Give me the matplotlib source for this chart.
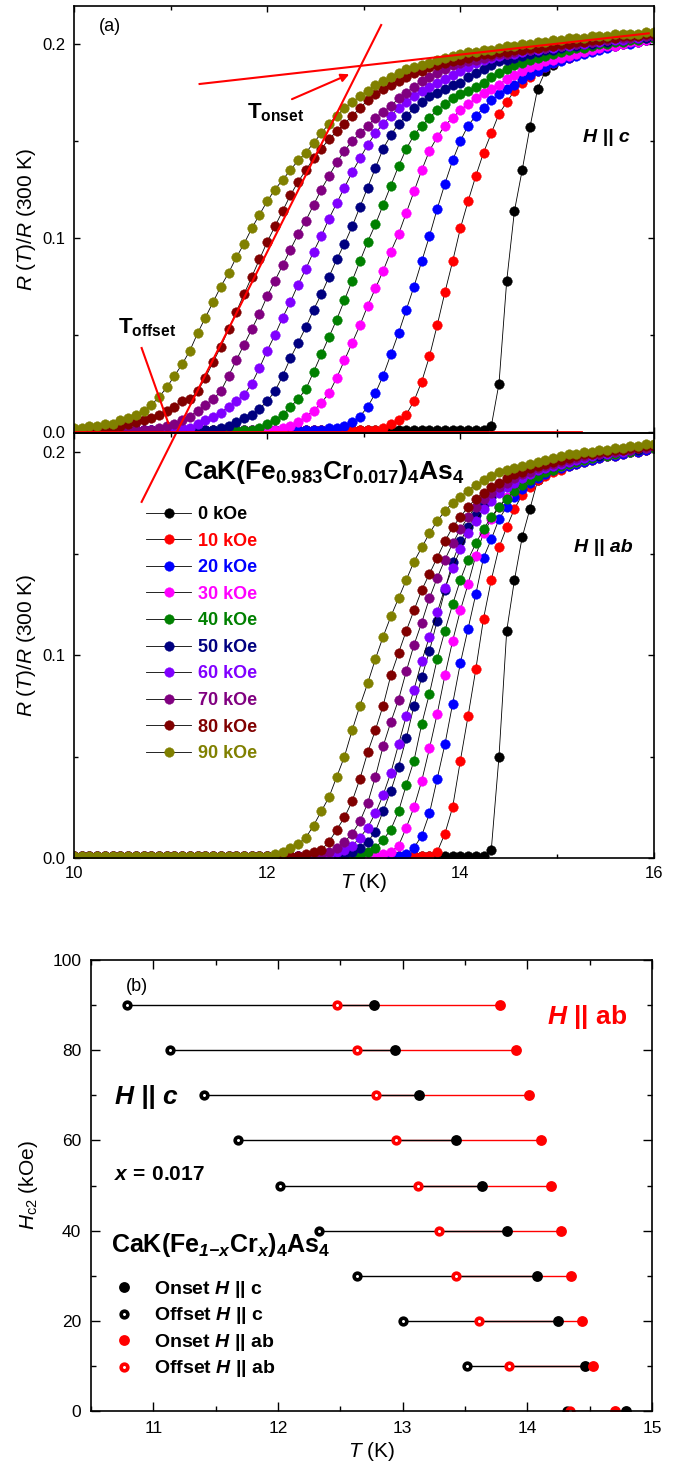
import matplotlib
matplotlib.use("Agg")
import matplotlib.pyplot as plt
from matplotlib import font_manager
from matplotlib.ticker import MultipleLocator, FormatStrFormatter

# temperature grid of the R(T) sweeps, K
temps = [10.00, 10.08, 10.16, 10.24, 10.32, 10.40, 10.48, 10.56, 10.64, 10.72,
         10.80, 10.88, 10.96, 11.04, 11.12, 11.20, 11.28, 11.36, 11.44, 11.52,
         11.60, 11.68, 11.76, 11.84, 11.92, 12.00, 12.08, 12.16, 12.24, 12.32,
         12.40, 12.48, 12.56, 12.64, 12.72, 12.80, 12.88, 12.96, 13.04, 13.12,
         13.20, 13.28, 13.36, 13.44, 13.52, 13.60, 13.68, 13.76, 13.84, 13.92,
         14.00, 14.08, 14.16, 14.24, 14.32, 14.40, 14.48, 14.56, 14.64, 14.72,
         14.80, 14.88, 14.96, 15.04, 15.12, 15.20, 15.28, 15.36, 15.44, 15.52,
         15.60, 15.68, 15.76, 15.84, 15.92, 16.00]

fields = [0, 10, 20, 30, 40, 50, 60, 70, 80, 90]
colors = ['#000000', '#ff0000', '#0000ff', '#ff00ff', '#008000',
          '#000080', '#8000ff', '#800080', '#800000', '#808000']

# R(T)/R(300 K), H || c
rc_0 = [0.001] * 54 + [0.003, 0.025, 0.078, 0.114, 0.135, 0.157,
        0.177, 0.186, 0.189, 0.192, 0.194, 0.196, 0.197, 0.198, 0.199, 0.200,
        0.200, 0.201, 0.201, 0.202, 0.202, 0.203]
rc_10 = [0.001] * 40 + [0.002, 0.004, 0.006, 0.009, 0.016, 0.026, 0.039, 0.055, 0.072, 0.088,
         0.105, 0.119, 0.132, 0.144, 0.154, 0.164, 0.170, 0.176, 0.180, 0.183,
         0.186, 0.188, 0.190, 0.192, 0.193, 0.195, 0.196, 0.197, 0.198, 0.199,
         0.199, 0.200, 0.201, 0.201, 0.202, 0.203]
rc_20 = [0.001] * 33 + [0.002, 0.002, 0.003, 0.005, 0.008, 0.013, 0.020,
         0.029, 0.040, 0.051, 0.063, 0.075, 0.088, 0.101, 0.115, 0.128, 0.140,
         0.150, 0.158, 0.163, 0.167, 0.171, 0.174, 0.177, 0.179, 0.182, 0.184,
         0.186, 0.188, 0.190, 0.191, 0.193, 0.194, 0.195, 0.196, 0.197, 0.198,
         0.199, 0.200, 0.200, 0.201, 0.202, 0.203]
rc_30 = [0.001] * 27 + [0.002, 0.003, 0.005,
         0.008, 0.011, 0.015, 0.020, 0.028, 0.037, 0.046, 0.055, 0.065, 0.074,
         0.083, 0.093, 0.102, 0.113, 0.124, 0.135, 0.145, 0.152, 0.158, 0.162,
         0.166, 0.169, 0.172, 0.175, 0.177, 0.179, 0.182, 0.184, 0.186, 0.188,
         0.189, 0.191, 0.192, 0.193, 0.194, 0.195, 0.196, 0.197, 0.198, 0.199,
         0.199, 0.200, 0.201, 0.201, 0.202, 0.203]
rc_40 = [0.001] * 24 + [0.002, 0.004, 0.006, 0.009, 0.013, 0.017,
         0.022, 0.031, 0.040, 0.049, 0.058, 0.068, 0.078, 0.088, 0.098, 0.107,
         0.117, 0.127, 0.137, 0.146, 0.153, 0.158, 0.162, 0.166, 0.169, 0.172,
         0.174, 0.176, 0.178, 0.180, 0.183, 0.185, 0.187, 0.189, 0.190, 0.192,
         0.193, 0.194, 0.195, 0.196, 0.197, 0.198, 0.198, 0.199, 0.200, 0.200,
         0.201, 0.201, 0.202, 0.202, 0.203, 0.203]
rc_50 = [0.001] * 19 + [0.002,
         0.003, 0.005, 0.007, 0.009, 0.012, 0.016, 0.021, 0.029, 0.038, 0.046,
         0.054, 0.063, 0.071, 0.080, 0.089, 0.097, 0.106, 0.116, 0.126, 0.136,
         0.146, 0.153, 0.159, 0.163, 0.167, 0.170, 0.173, 0.175, 0.177, 0.179,
         0.180, 0.183, 0.185, 0.187, 0.189, 0.191, 0.192, 0.193, 0.194, 0.195,
         0.196, 0.197, 0.197, 0.198, 0.199, 0.199, 0.200, 0.200, 0.201, 0.201,
         0.202, 0.202, 0.203, 0.203, 0.203, 0.204]
rc_60 = [0.001] * 14 + [0.002, 0.002, 0.004, 0.006, 0.008, 0.010,
         0.013, 0.016, 0.019, 0.025, 0.033, 0.042, 0.050, 0.059, 0.067, 0.076,
         0.084, 0.093, 0.101, 0.110, 0.118, 0.126, 0.134, 0.141, 0.148, 0.154,
         0.159, 0.163, 0.167, 0.170, 0.173, 0.176, 0.178, 0.180, 0.182, 0.184,
         0.186, 0.188, 0.190, 0.192, 0.193, 0.194, 0.195, 0.195, 0.196, 0.197,
         0.197, 0.198, 0.198, 0.199, 0.199, 0.200, 0.200, 0.201, 0.201, 0.202,
         0.202, 0.202, 0.203, 0.203, 0.204, 0.204]
rc_70 = [0.001] * 11 + [0.002, 0.003, 0.004, 0.006, 0.008, 0.011, 0.014, 0.017, 0.021,
         0.029, 0.037, 0.045, 0.053, 0.061, 0.070, 0.078, 0.086, 0.094, 0.102,
         0.109, 0.117, 0.125, 0.132, 0.139, 0.145, 0.150, 0.154, 0.158, 0.162,
         0.165, 0.168, 0.172, 0.175, 0.178, 0.181, 0.183, 0.185, 0.187, 0.189,
         0.190, 0.191, 0.192, 0.193, 0.194, 0.195, 0.195, 0.196, 0.197, 0.197,
         0.198, 0.198, 0.199, 0.199, 0.200, 0.200, 0.201, 0.201, 0.202, 0.202,
         0.203, 0.203, 0.203, 0.204, 0.204, 0.204]
rc_80 = [0.001, 0.001, 0.001, 0.001, 0.002, 0.002, 0.003, 0.004, 0.005, 0.006,
         0.007, 0.009, 0.011, 0.013, 0.016, 0.017, 0.021, 0.028, 0.036, 0.044,
         0.053, 0.062, 0.071, 0.080, 0.089, 0.098, 0.106, 0.114, 0.122, 0.129,
         0.135, 0.141, 0.146, 0.151, 0.155, 0.159, 0.163, 0.167, 0.171, 0.174,
         0.177, 0.179, 0.181, 0.183, 0.185, 0.186, 0.188, 0.189, 0.190, 0.191,
         0.192, 0.193, 0.194, 0.195, 0.195, 0.196, 0.196, 0.197, 0.197, 0.198,
         0.198, 0.199, 0.199, 0.200, 0.200, 0.201, 0.201, 0.202, 0.202, 0.203,
         0.203, 0.204, 0.204, 0.204, 0.205, 0.205]
rc_90 = [0.002, 0.002, 0.003, 0.003, 0.004, 0.004, 0.006, 0.007, 0.009, 0.011,
         0.014, 0.018, 0.023, 0.029, 0.035, 0.042, 0.051, 0.059, 0.067, 0.075,
         0.082, 0.090, 0.097, 0.105, 0.112, 0.119, 0.125, 0.130, 0.135, 0.140,
         0.144, 0.149, 0.154, 0.159, 0.163, 0.167, 0.170, 0.173, 0.176, 0.179,
         0.181, 0.183, 0.185, 0.187, 0.188, 0.189, 0.190, 0.192, 0.193, 0.194,
         0.195, 0.196, 0.196, 0.197, 0.197, 0.198, 0.199, 0.199, 0.200, 0.200,
         0.201, 0.201, 0.202, 0.202, 0.203, 0.203, 0.203, 0.204, 0.204, 0.204,
         0.205, 0.205, 0.205, 0.205, 0.206, 0.206]

# R(T)/R(300 K), H || ab
rab_0 = [0.001] * 54 + [0.004, 0.050, 0.112, 0.137, 0.158, 0.172,
         0.186, 0.190, 0.192, 0.194, 0.195, 0.196, 0.197, 0.198, 0.198, 0.199,
         0.199, 0.200, 0.200, 0.201, 0.201, 0.202]
rab_10 = [0.001] * 47 + [0.003, 0.012, 0.025,
          0.048, 0.070, 0.093, 0.118, 0.137, 0.153, 0.163, 0.172, 0.179, 0.183,
          0.186, 0.188, 0.190, 0.191, 0.193, 0.194, 0.195, 0.196, 0.197, 0.198,
          0.198, 0.199, 0.200, 0.200, 0.201, 0.202]
rab_20 = [0.001] * 43 + [0.002, 0.005, 0.011, 0.022, 0.039, 0.056, 0.076,
          0.096, 0.113, 0.130, 0.148, 0.157, 0.167, 0.173, 0.178, 0.182, 0.185,
          0.187, 0.189, 0.191, 0.192, 0.193, 0.194, 0.195, 0.196, 0.197, 0.198,
          0.198, 0.199, 0.200, 0.200, 0.201, 0.202]
rab_30 = [0.001] * 40 + [0.002, 0.003, 0.006, 0.015, 0.025, 0.038, 0.054, 0.071, 0.090, 0.107,
          0.122, 0.135, 0.149, 0.160, 0.167, 0.173, 0.178, 0.182, 0.185, 0.187,
          0.189, 0.191, 0.192, 0.193, 0.194, 0.195, 0.196, 0.197, 0.198, 0.198,
          0.199, 0.200, 0.200, 0.201, 0.202, 0.202]
rab_40 = [0.001] * 38 + [0.003, 0.005,
          0.009, 0.014, 0.023, 0.036, 0.048, 0.066, 0.081, 0.098, 0.112, 0.125,
          0.137, 0.147, 0.155, 0.162, 0.168, 0.173, 0.177, 0.181, 0.184, 0.186,
          0.188, 0.190, 0.191, 0.193, 0.194, 0.195, 0.196, 0.197, 0.198, 0.198,
          0.199, 0.200, 0.200, 0.201, 0.202, 0.202]
rab_50 = [0.001] * 36 + [0.003, 0.005, 0.008, 0.013,
          0.023, 0.033, 0.045, 0.059, 0.075, 0.089, 0.102, 0.117, 0.132, 0.146,
          0.156, 0.163, 0.169, 0.174, 0.178, 0.181, 0.184, 0.186, 0.188, 0.190,
          0.191, 0.192, 0.193, 0.194, 0.195, 0.196, 0.197, 0.198, 0.198, 0.199,
          0.200, 0.200, 0.201, 0.201, 0.202, 0.203]
rab_60 = [0.001] * 34 + [0.003, 0.004, 0.006, 0.010, 0.015, 0.022,
          0.031, 0.042, 0.056, 0.070, 0.083, 0.097, 0.109, 0.121, 0.133, 0.143,
          0.152, 0.160, 0.166, 0.172, 0.176, 0.180, 0.183, 0.185, 0.187, 0.189,
          0.191, 0.192, 0.193, 0.194, 0.195, 0.196, 0.197, 0.198, 0.199, 0.199,
          0.200, 0.200, 0.201, 0.202, 0.202, 0.203]
rab_70 = [0.001] * 32 + [0.002, 0.003, 0.005, 0.008, 0.012, 0.018, 0.027, 0.040,
          0.055, 0.067, 0.078, 0.092, 0.105, 0.116, 0.128, 0.138, 0.147, 0.155,
          0.162, 0.168, 0.173, 0.177, 0.180, 0.183, 0.185, 0.187, 0.189, 0.190,
          0.192, 0.193, 0.194, 0.195, 0.196, 0.197, 0.198, 0.199, 0.199, 0.200,
          0.200, 0.201, 0.201, 0.202, 0.202, 0.203]
rab_80 = [0.001] * 30 + [0.002, 0.003, 0.004, 0.008, 0.014, 0.020, 0.028, 0.039, 0.052, 0.063,
          0.075, 0.090, 0.101, 0.112, 0.122, 0.132, 0.140, 0.148, 0.156, 0.163,
          0.168, 0.173, 0.177, 0.180, 0.183, 0.185, 0.187, 0.189, 0.190, 0.192,
          0.193, 0.194, 0.195, 0.196, 0.197, 0.198, 0.199, 0.199, 0.200, 0.200,
          0.201, 0.201, 0.202, 0.202, 0.203, 0.203]
rab_90 = [0.001] * 26 + [0.002, 0.003, 0.005, 0.007,
          0.010, 0.016, 0.023, 0.030, 0.040, 0.050, 0.063, 0.075, 0.086, 0.098,
          0.109, 0.119, 0.128, 0.137, 0.146, 0.153, 0.160, 0.166, 0.171, 0.175,
          0.178, 0.181, 0.184, 0.186, 0.188, 0.190, 0.191, 0.192, 0.193, 0.194,
          0.195, 0.196, 0.197, 0.198, 0.199, 0.199, 0.200, 0.200, 0.201, 0.201,
          0.202, 0.202, 0.203, 0.203, 0.204, 0.204]

curves_c = [rc_0, rc_10, rc_20, rc_30, rc_40, rc_50, rc_60, rc_70, rc_80, rc_90]
curves_ab = [rab_0, rab_10, rab_20, rab_30, rab_40, rab_50, rab_60, rab_70, rab_80, rab_90]

# construction lines for the 80 kOe, H || c curve
normal_fit_T = [11.30, 15.95]
normal_fit_R = [0.1794, 0.2055]
steep_fit_T = [10.70, 13.18]
steep_fit_R = [-0.036, 0.2098]
zero_fit_T = [10.0, 15.25]
zero_fit_R = [0.0, 0.0]

# Hc2 from onset / offset, K
onset_c = [14.79, 14.46, 14.25, 14.08, 13.84, 13.64, 13.43, 13.13, 12.94, 12.77]
offset_c = [14.32, 13.52, 13.00, 12.63, 12.33, 12.02, 11.68, 11.41, 11.13, 10.79]
onset_ab = [14.70, 14.53, 14.44, 14.35, 14.27, 14.19, 14.11, 14.01, 13.91, 13.78]
offset_ab = [14.34, 13.85, 13.61, 13.43, 13.29, 13.12, 12.95, 12.79, 12.63, 12.47]

# fonts
names = {f.name for f in font_manager.fontManager.ttflist}
narrow = 'Liberation Sans Narrow' if 'Liberation Sans Narrow' in names else 'Liberation Sans'
plt.rcParams['font.family'] = ['Liberation Sans', 'DejaVu Sans']
plt.rcParams['mathtext.fontset'] = 'custom'
plt.rcParams['mathtext.rm'] = 'Liberation Sans'
plt.rcParams['mathtext.it'] = 'Liberation Sans:italic'
plt.rcParams['mathtext.bf'] = narrow + ':bold'
plt.rcParams['mathtext.bfit'] = narrow + ':italic:bold'
plt.rcParams['axes.linewidth'] = 1.2

fig = plt.figure(figsize=(6.88, 14.78), dpi=100)
ax1 = fig.add_axes([0.1076, 0.70704, 0.8423, 0.2889])
ax2 = fig.add_axes([0.1076, 0.41949, 0.8423, 0.28755])
ax3 = fig.add_axes([0.13227, 0.04533, 0.8154, 0.30514])
ax2.patch.set_visible(False)


def style_ax(ax, fs, major, minor):
    ax.tick_params(which='both', direction='in', top=True, right=True, width=1.0)
    ax.tick_params(which='major', length=major, labelsize=fs, pad=6)
    ax.tick_params(which='minor', length=minor)


# (a) R(T) curves
handles = []
for ax, curves in [(ax1, curves_c), (ax2, curves_ab)]:
    for h, col, r in zip(fields, colors, curves):
        ln, = ax.plot(temps, r, '-o', color='k', lw=0.6, ms=6.9,
                      mfc=col, mec=col, mew=0.3, label=f'{h} kOe')
        if ax is ax2:
            handles.append(ln)
    ax.set_xlim(10, 16)
    ax.xaxis.set_major_locator(MultipleLocator(2))
    ax.xaxis.set_minor_locator(MultipleLocator(1))
    ax.yaxis.set_major_locator(MultipleLocator(0.1))
    ax.yaxis.set_minor_locator(MultipleLocator(0.05))
    ax.yaxis.set_major_formatter(FormatStrFormatter('%.1f'))
    style_ax(ax, 12, 4.5, 3)
    ax.set_ylabel(r'$R$ ($T$)/$R$ (300 K)', fontsize=15)
    ax.yaxis.set_label_coords(-0.062, 0.5)

ax1.set_ylim(-0.0005, 0.2196)
ax2.set_ylim(0, 0.2094)
ax1.tick_params(labelbottom=False)
ax2.set_xlabel(r'$T$ (K)', fontsize=15)
ax2.xaxis.set_label_coords(0.5, -0.03)

ax1.plot(zero_fit_T, zero_fit_R, color='red', lw=2)
ax1.plot(normal_fit_T, normal_fit_R, color='red', lw=1.5)
ax1.plot(steep_fit_T, steep_fit_R, color='red', lw=1.5, clip_on=False)
ax1.annotate('', xy=(12.876, 0.185), xytext=(12.23, 0.171),
             arrowprops=dict(arrowstyle='-|>', color='red', lw=1.5, mutation_scale=12))
ax1.plot([10.70, 10.976], [0.0433, 0.0046], color='red', lw=1.5)

ax1.text(10.26, 0.2088, '(a)', fontsize=13, va='center')
ax1.text(15.27, 0.152, 'H || c', fontsize=14, weight='bold', style='italic', va='center')
ax1.text(11.79, 0.1647, r'$\mathbf{T_{onset}}$', fontsize=16, va='center')
ax1.text(10.455, 0.0536, r'$\mathbf{T_{offset}}$', fontsize=16, va='center')

ax2.text(11.13, 0.190, r'$\mathbf{CaK(Fe_{0.983}Cr_{0.017})_4As_4}$', fontsize=19, va='center')
ax2.text(15.18, 0.153, 'H || ab', fontsize=14, weight='bold', style='italic', va='center')
ax2.legend(handles=handles, loc='upper left', bbox_to_anchor=(146 / 688, 1 - 506 / 1478),
           bbox_transform=fig.transFigure, frameon=False, borderpad=0, borderaxespad=0,
           handlelength=2.5, handletextpad=0.4, labelspacing=0.53,
           prop=dict(family=narrow, weight='bold', size=13), labelcolor='markerfacecolor')

# (b) Hc2(T)
ax3.hlines(fields, offset_ab, onset_ab, colors='red', lw=1.0)
ax3.hlines(fields, offset_c, onset_c, colors='black', lw=1.0)
h_off_c, = ax3.plot(offset_c, fields, 'o', ls='none', ms=4.8, mfc='white', mec='black', mew=2.6)
h_off_ab, = ax3.plot(offset_ab, fields, 'o', ls='none', ms=4.8, mfc='white', mec='red', mew=2.6)
h_on_c, = ax3.plot(onset_c, fields, 'o', ls='none', ms=7.8, mfc='black', mec='black', mew=0)
h_on_ab, = ax3.plot(onset_ab, fields, 'o', ls='none', ms=7.8, mfc='red', mec='red', mew=0)

ax3.set_xlim(10.5, 15)
ax3.set_ylim(0, 100)
ax3.xaxis.set_major_locator(MultipleLocator(1))
ax3.xaxis.set_minor_locator(MultipleLocator(0.5))
ax3.yaxis.set_major_locator(MultipleLocator(20))
ax3.yaxis.set_minor_locator(MultipleLocator(10))
style_ax(ax3, 12.5, 6.5, 3.5)
ax3.tick_params(which='major', pad=7)
ax3.set_xlabel(r'$T$ (K)', fontsize=15)
ax3.xaxis.set_label_coords(0.5, -0.064)
ax3.set_ylabel(r'$H_{\mathrm{c2}}$ (kOe)', fontsize=15)
ax3.yaxis.set_label_coords(-0.091, 0.5)

ax3.text(10.78, 94.2, '(b)', fontsize=13, va='center')
ax3.text(14.156, 87.4, r'$\mathbfit{H}\ \mathbf{||\ ab}$', color='red', fontsize=19, va='center')
ax3.text(10.684, 69.6, r'$\mathbfit{H\ ||\ c}$', fontsize=19, va='center')
ax3.text(10.684, 52.5, r'$\mathbfit{x}\mathbf{\,=\,0.017}$', fontsize=15, va='center')
ax3.text(10.66, 36.8, r'$\mathbf{CaK(Fe}_{\mathbfit{1{-}x}}\mathbf{Cr}_{\mathbfit{x}}\mathbf{)_4As_4}$',
         fontsize=18, va='center')
ax3.legend([h_on_c, h_off_c, h_on_ab, h_off_ab],
           [r'$\mathbf{Onset}\ \mathbfit{H}\ \mathbf{||\ c}$',
            r'$\mathbf{Offset}\ \mathbfit{H}\ \mathbf{||\ c}$',
            r'$\mathbf{Onset}\ \mathbfit{H}\ \mathbf{||\ ab}$',
            r'$\mathbf{Offset}\ \mathbfit{H}\ \mathbf{||\ ab}$'],
           loc='upper left', bbox_to_anchor=(114.7 / 688, 1 - 1279 / 1478),
           bbox_transform=fig.transFigure, frameon=False, borderpad=0, borderaxespad=0,
           handlelength=1.0, handletextpad=1.0, labelspacing=0.28, fontsize=14)

fig.savefig('out.png', dpi=100)
